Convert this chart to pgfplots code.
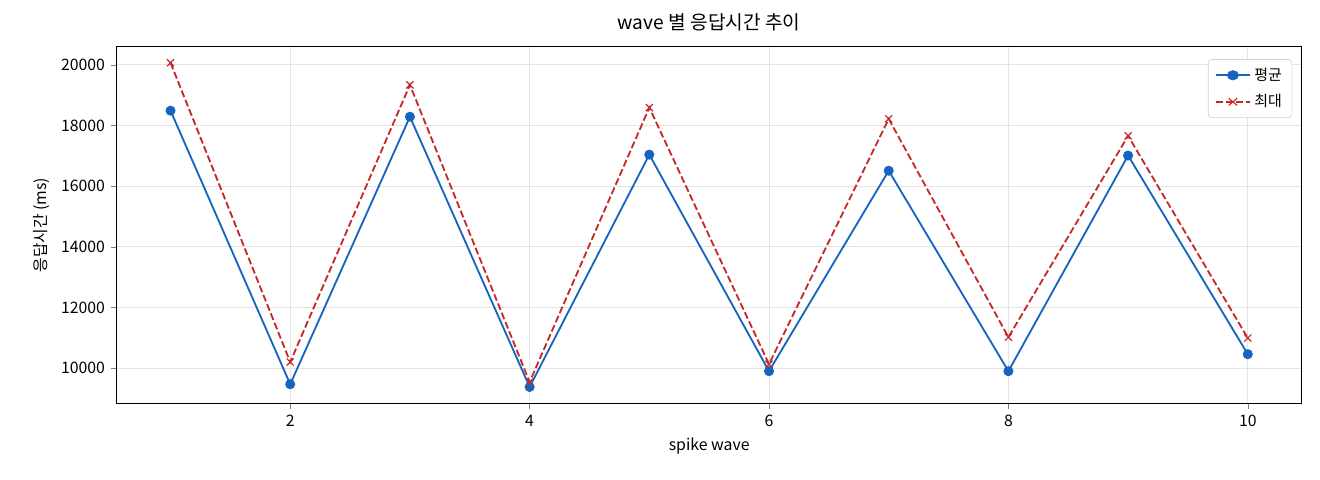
\documentclass[border=0pt]{standalone}
\usepackage{fontspec}
\setmainfont{Noto Sans CJK KR}
\usepackage{pgfplots}
\pgfplotsset{compat=1.18}

\definecolor{avgblue}{HTML}{1565C0}
\definecolor{maxred}{HTML}{C62828}

\begin{document}
\begin{tikzpicture}
\useasboundingbox (-70pt,-46pt) rectangle (722pt,242pt);
\begin{axis}[
    scale only axis,
    width=711pt, height=214pt,
    xmin=0.55, xmax=10.45,
    ymin=8840, ymax=20600,
    xtick={2,4,6,8,10},
    ytick={10000,12000,14000,16000,18000,20000},
    scaled y ticks=false,
    /pgf/number format/assume math mode=true,
    yticklabel style={/pgf/number format/set thousands separator={}},
    tick label style={font=\fontsize{9.5}{11}\selectfont},
    label style={font=\fontsize{9.5}{11}\selectfont},
    title style={font=\fontsize{11.5}{13}\selectfont},
    title={wave 별 응답시간 추이},
    xlabel={spike wave},
    ylabel={응답시간 (ms)},
    tick align=outside,
    xtick pos=bottom, ytick pos=left,
    major tick length=3.5pt,
    grid=major,
    major grid style={line width=0.5pt, draw=gray!22},
    axis line style={line width=0.6pt},
    legend cell align=left,
    legend style={font=\fontsize{9}{11}\selectfont, draw=gray!35, rounded corners=2pt,
        at={(0.992,0.965)}, anchor=north east, row sep=3pt,
        inner xsep=4pt, inner ysep=3pt,
        /tikz/every even column/.append style={column sep=4pt}},
    legend image post style={xscale=1.2},
]
\addplot[color=avgblue, line width=1.1pt, mark=*, mark size=2.8pt, mark options={fill=avgblue, line width=0.4pt}] coordinates {
    (1,18490) (2,9470) (3,18290) (4,9380) (5,17040)
    (6,9900) (7,16510) (8,9900) (9,17010) (10,10460)
};
\addlegendentry{평균}
\addplot[color=maxred, line width=1.1pt, dash pattern=on 4.2pt off 1.8pt, mark=x, mark size=3pt, mark options={solid, line width=0.7pt}] coordinates {
    (1,20070) (2,10200) (3,19340) (4,9540) (5,18590)
    (6,10130) (7,18220) (8,11020) (9,17660) (10,10990)
};
\addlegendentry{최대}
\end{axis}
\end{tikzpicture}
\end{document}
